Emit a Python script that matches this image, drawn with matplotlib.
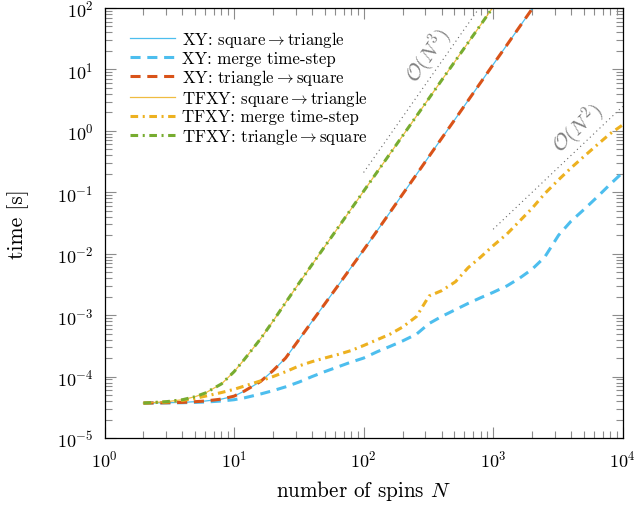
import numpy as np
import matplotlib
matplotlib.use("Agg")
import matplotlib.pyplot as plt
from matplotlib.ticker import LogLocator, NullFormatter

plt.rcParams['font.family'] = 'serif'
plt.rcParams['font.serif'] = ['cmr10']
plt.rcParams['mathtext.fontset'] = 'cm'
plt.rcParams['axes.formatter.use_mathtext'] = True

# ---------------- data ----------------
N_fast_xy = [2, 3, 4, 5, 6, 8, 10, 12, 16, 20, 25, 32, 40, 50, 64, 80, 100, 128, 160,
             200, 256, 320, 400, 512, 640, 800, 1000, 1280, 1600, 2000]
t_xy_tri = [3.7e-5, 3.75e-5, 3.8e-5, 3.9e-5, 4.0e-5, 4.3e-5, 4.8e-5, 5.8e-5, 8.3e-5,
            1.25e-4, 2.0e-4, 4.1e-4, 7.9e-4, 1.51e-3, 3.1e-3, 5.96e-3, 0.0115, 0.0241,
            0.0473, 0.093, 0.195, 0.384, 0.753, 1.58, 3.11, 6.1, 12.0, 25.2, 49.5, 97.0]
t_xy_sq = list(t_xy_tri)

N_fast_tf = [2, 3, 4, 5, 6, 8, 10, 12, 16, 20, 25, 32, 40, 50, 64, 80, 100, 128, 160,
             200, 256, 320, 400, 512, 640, 800, 1000]
t_tf_tri = [3.7e-5, 3.9e-5, 4.2e-5, 4.7e-5, 5.4e-5, 7.6e-5, 1.2e-4, 1.9e-4, 4.1e-4,
            8.0e-4, 1.6e-3, 3.4e-3, 6.65e-3, 0.013, 0.0272, 0.0532, 0.104, 0.218, 0.426,
            0.83, 1.74, 3.4, 6.65, 13.9, 27.2, 53.0, 104.0]
t_tf_sq = list(t_tf_tri)

N_merge = [2, 3, 4, 5, 6, 8, 10, 12, 16, 20, 25, 32, 40, 50, 64, 80, 100, 128, 160, 200,
           256, 320, 400, 512, 640, 800, 1000, 1280, 1600, 2000, 2500, 3200, 4000, 5000,
           6400, 8000, 10000]
t_xy_merge = [3.7e-5, 3.72e-5, 3.75e-5, 3.8e-5, 3.85e-5, 4.0e-5, 4.2e-5, 4.5e-5, 5.2e-5,
              5.9e-5, 6.8e-5, 8.2e-5, 1.0e-4, 1.2e-4, 1.45e-4, 1.72e-4, 2.0e-4, 2.55e-4,
              3.1e-4, 3.8e-4, 4.9e-4, 7.3e-4, 9.5e-4, 1.23e-3, 1.55e-3, 1.92e-3, 2.35e-3,
              3.0e-3, 4.0e-3, 5.6e-3, 8.8e-3, 0.020, 0.034, 0.052, 0.085, 0.135, 0.21]
t_tf_merge = [3.7e-5, 3.85e-5, 4.1e-5, 4.4e-5, 4.8e-5, 5.5e-5, 6.2e-5, 7.0e-5, 8.5e-5,
              1.0e-4, 1.2e-4, 1.5e-4, 1.75e-4, 2.0e-4, 2.3e-4, 2.65e-4, 3.2e-4, 4.0e-4,
              4.9e-4, 6.4e-4, 9.5e-4, 2.05e-3, 2.5e-3, 3.5e-3, 5.9e-3, 8.8e-3, 0.0135,
              0.021, 0.034, 0.055, 0.095, 0.16, 0.25, 0.38, 0.6, 0.9, 1.25]

# reference scaling lines
N_ref3 = [100, 800]
t_ref3_at100 = 0.21
N_ref2 = [1000, 10000]
t_ref2_at1000 = 0.025

labels = ['XY: square$\\rightarrow$triangle',
          'XY: merge time-step',
          'XY: triangle$\\rightarrow$square',
          'TFXY: square$\\rightarrow$triangle',
          'TFXY: merge time-step',
          'TFXY: triangle$\\rightarrow$square']

x_ticks = [1, 10, 100, 1000, 10000]
y_ticks = [1e-5, 1e-4, 1e-3, 1e-2, 1e-1, 1, 10, 100]

c_blue = '#4DBEEE'
c_red = '#D95319'
c_orange = '#EDB120'
c_green = '#77AC30'

# ---------------- figure ----------------
fig = plt.figure(figsize=(6.35, 5.06), dpi=100)
ax = fig.add_axes([104.5 / 635, 1 - 439 / 506, 518.2 / 635, 430 / 506])

dash = (0, (3.3, 2.2))
dashdot = (0, (2.5, 1.5, 0.66, 1.5))

ax.plot(N_fast_xy, t_xy_sq, color=c_blue, lw=0.9, label=labels[0])
ax.plot(N_merge, t_xy_merge, color=c_blue, lw=2.2, ls=dash, label=labels[1])
ax.plot(N_fast_xy, t_xy_tri, color=c_red, lw=2.2, ls=dash, label=labels[2])
ax.plot(N_fast_tf, t_tf_sq, color=c_orange, lw=0.9, alpha=0.85, label=labels[3])
ax.plot(N_merge, t_tf_merge, color=c_orange, lw=2.2, ls=dashdot, label=labels[4])
ax.plot(N_fast_tf, t_tf_tri, color=c_green, lw=2.2, ls=dashdot, label=labels[5])

Nr3 = np.array(N_ref3, dtype=float)
ax.plot(Nr3, t_ref3_at100 * (Nr3 / 100.0) ** 3, color='#666666', lw=0.8, ls=(0, (1, 3)))
Nr2 = np.array(N_ref2, dtype=float)
ax.plot(Nr2, t_ref2_at1000 * (Nr2 / 1000.0) ** 2, color='#666666', lw=0.8, ls=(0, (1, 3)))

ax.text(316, 17.2, r'$\mathcal{O}(N^3)$', rotation=55, color='#808080', fontsize=15,
        ha='center', va='center', rotation_mode='anchor')
ax.text(4520, 1.11, r'$\mathcal{O}(N^2)$', rotation=43.5, color='#808080', fontsize=15,
        ha='center', va='center', rotation_mode='anchor')

ax.set_xscale('log')
ax.set_yscale('log')
ax.set_xlim(1, 1e4)
ax.set_ylim(1e-5, 1e2)
ax.set_xticks(x_ticks)
ax.set_yticks(y_ticks)

for axis in (ax.xaxis, ax.yaxis):
    axis.set_minor_locator(LogLocator(base=10, subs=np.arange(2, 10), numticks=30))
    axis.set_minor_formatter(NullFormatter())

ax.tick_params(which='both', direction='in', top=True, right=True, color='#8c8c8c',
               width=0.8, labelsize=13, pad=8)
ax.tick_params(which='major', length=8)
ax.tick_params(which='minor', length=5)
for s in ax.spines.values():
    s.set_linewidth(0.9)

ax.set_xlabel('number of spins $N$', fontsize=15.2, labelpad=6)
ax.set_ylabel('time [s]', fontsize=15.5, labelpad=20)

ax.legend(loc='upper left', bbox_to_anchor=(0.049, 0.951), frameon=False, fontsize=12.1,
          handlelength=2.7, handletextpad=0.4, labelspacing=0.07, borderpad=0,
          borderaxespad=0)

fig.savefig('out.png', dpi=100)
